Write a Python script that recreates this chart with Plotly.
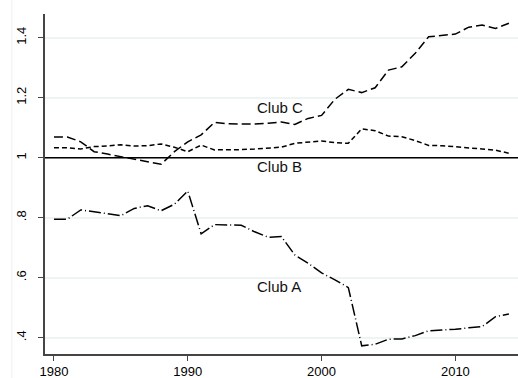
import plotly.graph_objects as go

years = list(range(1980, 2015))

club_a = [0.795, 0.795, 0.826, 0.820, 0.815, 0.807, 0.831, 0.840, 0.823, 0.845,
          0.889, 0.746, 0.777, 0.777, 0.775, 0.753, 0.735, 0.737, 0.676, 0.648,
          0.616, 0.593, 0.567, 0.373, 0.378, 0.395, 0.396, 0.407, 0.423, 0.426,
          0.428, 0.433, 0.437, 0.470, 0.479]

club_b = [1.033, 1.033, 1.029, 1.037, 1.039, 1.043, 1.039, 1.040, 1.046, 1.035,
          1.020, 1.042, 1.026, 1.026, 1.027, 1.029, 1.032, 1.035, 1.048, 1.051,
          1.056, 1.050, 1.048, 1.096, 1.090, 1.072, 1.070, 1.057, 1.041, 1.040,
          1.037, 1.032, 1.029, 1.025, 1.015]

club_c = [1.069, 1.069, 1.053, 1.020, 1.012, 1.003, 0.995, 0.987, 0.978, 1.020,
          1.053, 1.076, 1.118, 1.113, 1.112, 1.112, 1.115, 1.119, 1.111, 1.131,
          1.141, 1.195, 1.228, 1.217, 1.233, 1.292, 1.303, 1.348, 1.403, 1.408,
          1.412, 1.435, 1.442, 1.431, 1.448]

labels = ["Club A", "Club B", "Club C"]
label_pos = [(1995, 0.571), (1995, 0.972), (1995, 1.169)]

y_tickvals = [0.4, 0.6, 0.8, 1.0, 1.2, 1.4]
y_ticktext = [".4", ".6", ".8", "1", "1.2", "1.4"]
x_tickvals = [1980, 1990, 2000, 2010]

FONT = "Liberation Sans, Arial, Helvetica, sans-serif"

fig = go.Figure()
fig.add_trace(go.Scatter(x=years, y=club_a, mode="lines", name="Club A",
                         line=dict(color="black", width=1.5, dash="12px,3px,1px,3px")))
fig.add_trace(go.Scatter(x=years, y=club_b, mode="lines", name="Club B",
                         line=dict(color="black", width=1.5, dash="5px,3px")))
fig.add_trace(go.Scatter(x=years, y=club_c, mode="lines", name="Club C",
                         line=dict(color="black", width=1.5, dash="9px,4px")))

for txt, (lx, ly) in zip(labels, label_pos):
    fig.add_annotation(x=lx, y=ly, text=txt, showarrow=False, xanchor="left",
                       yanchor="middle", font=dict(family=FONT, size=15, color="#111"))

# reference line at 1
fig.add_shape(type="line", xref="paper", x0=0, x1=1, yref="y", y0=1, y1=1,
              line=dict(color="black", width=1.5))
# faint graph-region border on the left
fig.add_shape(type="line", xref="paper", x0=-0.07, x1=-0.07, yref="paper", y0=-0.08, y1=1.05,
              line=dict(color="#eef0f0", width=1))

fig.update_layout(
    width=518, height=378,
    margin=dict(l=45, r=0, t=14, b=24),
    plot_bgcolor="white", paper_bgcolor="white",
    showlegend=False,
    font=dict(family=FONT, size=13, color="black"),
    xaxis=dict(range=[1979.33, 2014.68], tickvals=x_tickvals, ticks="outside",
               ticklen=5, tickcolor="#444", showline=True, linecolor="#444",
               linewidth=1.5, showgrid=False, zeroline=False,
               tickfont=dict(family=FONT, size=13)),
    yaxis=dict(range=[0.3457, 1.479], tickvals=y_tickvals, ticktext=y_ticktext,
               tickangle=-90, ticks="outside", ticklen=5, tickcolor="#444",
               showline=True, linecolor="#444", linewidth=1.5,
               ticklabelstandoff=7,
               showgrid=True, gridcolor="#eef3f3", gridwidth=1.5, zeroline=False,
               tickfont=dict(family=FONT, size=13)),
)

fig.write_html("out.html", config={"displayModeBar": False},
               post_script="document.body.style.margin='0px';document.body.style.padding='0px';")
